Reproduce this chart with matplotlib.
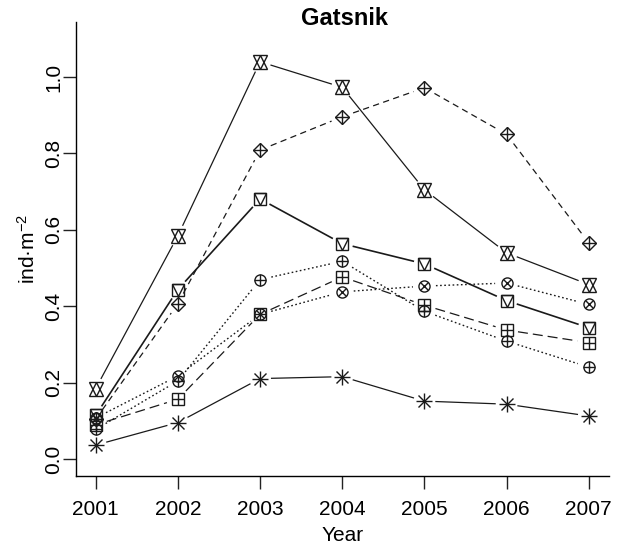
import numpy as np
import matplotlib
matplotlib.use("Agg")
import matplotlib.pyplot as plt

plt.rcParams['font.family'] = ['Liberation Sans', 'DejaVu Sans']
plt.rcParams['mathtext.default'] = 'regular'

years = [2001, 2002, 2003, 2004, 2005, 2006, 2007]

# densities per series (ind/m2)
hexagram = [0.185, 0.585, 1.040, 0.973, 0.705, 0.540, 0.457]
diamond_plus = [0.105, 0.407, 0.809, 0.896, 0.972, 0.850, 0.566]
square_tri = [0.115, 0.444, 0.681, 0.564, 0.511, 0.415, 0.344]
circle_plus = [0.078, 0.205, 0.470, 0.518, 0.387, 0.309, 0.241]
square_plus = [0.090, 0.157, 0.379, 0.477, 0.403, 0.338, 0.305]
circle_x = [0.108, 0.218, 0.379, 0.438, 0.453, 0.461, 0.405]
asterisk = [0.037, 0.096, 0.211, 0.216, 0.152, 0.144, 0.113]

yticks = [0.0, 0.2, 0.4, 0.6, 0.8, 1.0]

fig = plt.figure(figsize=(6.22, 5.5), dpi=100)
ax = fig.add_axes([0.1222, 0.1345, 0.8561, 0.8255])
ax.set_xlim(2000.76, 2007.24)
ax.set_ylim(-0.044, 1.144)

ax.spines['top'].set_visible(False)
ax.spines['right'].set_visible(False)
for s in ('left', 'bottom'):
    ax.spines[s].set_linewidth(1.0)

ax.set_xticks(years)
ax.set_xticklabels([str(y) for y in years])
ax.set_yticks(yticks)
ax.set_yticklabels([f"{v:.1f}" for v in yticks], rotation=90, va='center')
ax.tick_params(axis='both', length=9.4, width=1.0, labelsize=15, color='#222222')
ax.tick_params(axis='x', pad=8)
ax.tick_params(axis='y', pad=0)

ax.set_xlabel("Year", fontsize=15, labelpad=5)
ax.set_ylabel("ind·m$^{-2}$", fontsize=15, labelpad=4)
fig.text(0.5544, 0.966, "Gatsnik", ha='center', va='center',
         fontsize=17, fontweight='bold')


def draw_gapped(x, y, gap=11.5, **kw):
    # R type="b": line segments stop short of the points
    trans = ax.transData
    pts = trans.transform(np.column_stack([x, y]))
    inv = trans.inverted()
    for p0, p1 in zip(pts[:-1], pts[1:]):
        d = p1 - p0
        L = np.hypot(*d)
        if L <= 2 * gap:
            continue
        u = d / L
        seg = inv.transform([p0 + u * gap, p1 - u * gap])
        ax.plot(seg[:, 0], seg[:, 1], color='#1a1a1a', **kw)


def draw_markers(x, y, specs):
    for m, ms in specs:
        ax.plot(x, y, linestyle='none', marker=m, markersize=ms,
                markerfacecolor='none', markeredgecolor='#1a1a1a',
                markeredgewidth=1.0)


dashed = (0, (5, 3.5))
longdash = (0, (8, 4))
dotted = (0, (1.2, 1.8))

series = [
    (hexagram, '-', 0.9, [('^', 10), ('v', 10)]),
    (diamond_plus, dashed, 0.9, [('D', 7.5), ('+', 10.6)]),
    (square_tri, '-', 1.2, [('s', 8), ('v', 8)]),
    (circle_plus, dotted, 1.0, [('o', 8), ('+', 8)]),
    (square_plus, longdash, 0.9, [('s', 8), ('+', 8)]),
    (circle_x, dotted, 1.0, [('o', 8), ('x', 5.7)]),
    (asterisk, '-', 0.9, [('+', 11), ('x', 8.5)]),
]

for vals, ls, lw, mk in series:
    draw_gapped(years, vals, linestyle=ls, linewidth=lw)
    draw_markers(years, vals, mk)

fig.savefig("out.png", dpi=100)
